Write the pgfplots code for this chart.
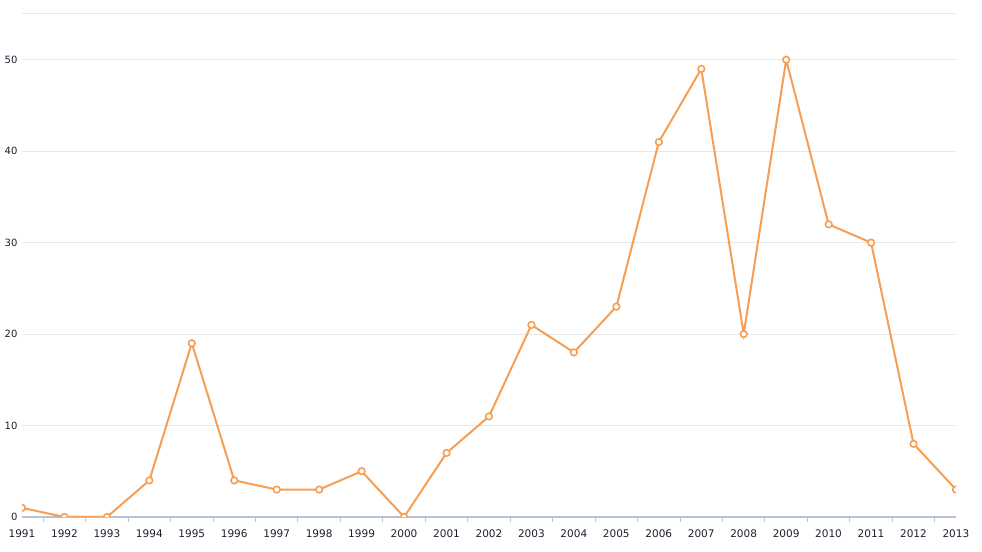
\documentclass[border=0pt]{standalone}
\usepackage{pgfplots}
\pgfplotsset{compat=1.18}
\usepackage{fontspec}
\setmainfont{DejaVu Sans}
\definecolor{lineor}{RGB}{246,158,84}
\definecolor{gridc}{RGB}{232,232,232}
\definecolor{axisc}{RGB}{180,196,214}
\definecolor{labc}{RGB}{30,30,50}
\begin{document}
\begin{tikzpicture}
\begin{axis}[
  scale only axis,
  width=934pt, height=503pt,
  xmin=1991, xmax=2013,
  ymin=0, ymax=55,
  clip=true,
  clip marker paths=true,
  axis x line*=bottom,
  axis y line*=left,
  x axis line style={draw=axisc, line width=1.2pt, -},
  y axis line style={draw=none},
  xtick={1991,...,2013},
  minor xtick={1991.5,1992.5,...,2012.5},
  ytick={0,10,...,50},
  extra y ticks={55},
  extra y tick labels={},
  extra y tick style={grid=major, major tick length=0pt},
  ymajorgrids,
  grid style={gridc, line width=1pt},
  major tick length=0pt,
  minor tick length=5pt,
  tick align=outside,
  minor tick style={axisc, line width=1pt},
  xticklabel style={font=\fontsize{10.5}{11}\selectfont, text=labc, yshift=-9pt},
  yticklabel style={font=\fontsize{10}{11}\selectfont, text=labc, xshift=-1pt},
  /pgf/number format/1000 sep={},
  /pgf/number format/assume math mode=true,
]
\addplot[lineor, line width=2pt, mark=*, mark size=3.3pt,
  mark options={fill=white, draw=lineor, line width=1.6pt}] coordinates {
(1991,1) (1992,0) (1993,0) (1994,4) (1995,19) (1996,4) (1997,3) (1998,3)
(1999,5) (2000,0) (2001,7) (2002,11) (2003,21) (2004,18) (2005,23) (2006,41)
(2007,49) (2008,20) (2009,50) (2010,32) (2011,30) (2012,8) (2013,3)
};
\end{axis}
\pgfresetboundingbox
\path (current axis.south west) ++(-22pt,-35pt) coordinate (bl);
\path (current axis.north east) ++(26pt,14pt) coordinate (tr);
\path[use as bounding box] (bl) rectangle (tr);
\end{tikzpicture}
\end{document}
